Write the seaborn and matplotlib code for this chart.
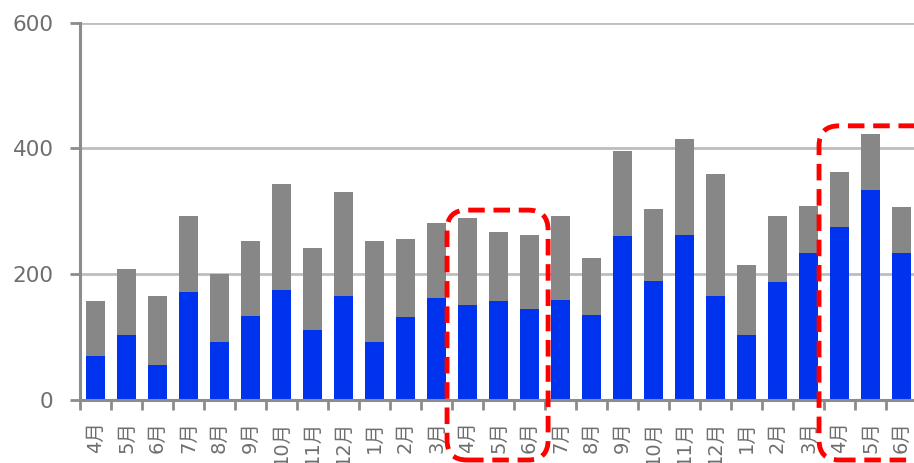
import matplotlib
matplotlib.use("Agg")
import matplotlib.pyplot as plt
from matplotlib.patches import FancyBboxPatch
from matplotlib.transforms import IdentityTransform
import numpy as np
import pandas as pd
import seaborn as sns

# Monthly values, two fiscal years plus the first quarter of the next
months = ["4月", "5月", "6月", "7月", "8月", "9月", "10月", "11月", "12月", "1月", "2月", "3月",
          "4月", "5月", "6月", "7月", "8月", "9月", "10月", "11月", "12月", "1月", "2月", "3月",
          "4月", "5月", "6月"]
lower = [70, 103, 56, 171, 92, 133, 175, 112, 165, 92, 132, 163,
         151, 157, 145, 159, 135, 261, 189, 263, 165, 104, 188, 234,
         275, 334, 234]
upper = [87, 105, 109, 122, 108, 120, 169, 130, 165, 161, 124, 118,
         138, 110, 117, 134, 91, 135, 114, 152, 195, 110, 105, 75,
         87, 89, 73]
y_ticks = [0, 200, 400, 600]

# Highlighted periods: (first bar, last bar) indices
highlights = [(12, 14), (24, 26)]

BLUE = "#0033EE"
GREY = "#878787"
AXIS = "#8C8C8C"
TEXT = "#6E6E6E"

df = pd.DataFrame({
    "pos": np.arange(len(months)),
    "lower": lower,
    "total": np.array(lower) + np.array(upper),
})

sns.set_theme(style="white")
plt.rcParams["font.family"] = ["DejaVu Sans", "Noto Sans CJK JP"]

fig = plt.figure(figsize=(9.14, 4.63), dpi=100)
ax = fig.add_axes([80 / 914, 63 / 463, 837 / 914, 377.3 / 463])

sns.barplot(data=df, x="pos", y="total", color=GREY, saturation=1,
            width=0.6, linewidth=0, ax=ax, zorder=3)
sns.barplot(data=df, x="pos", y="lower", color=BLUE, saturation=1,
            width=0.6, linewidth=0, ax=ax, zorder=4)

ax.set_xlim(-0.5, len(months) - 0.5)
ax.set_ylim(0, 600)
ax.set_xlabel("")
ax.set_ylabel("")

# Horizontal gridlines
for v in y_ticks[1:]:
    ax.axhline(v, color="#BDBDBD", lw=2, zorder=1)

# Y axis
ax.set_yticks(y_ticks)
ax.set_yticklabels([str(v) for v in y_ticks], fontsize=15.5, color=TEXT)
ax.tick_params(axis="y", direction="out", length=7, width=2, color=AXIS, pad=12, left=True)

# X axis: ticks between categories, labels centred under bars
ax.set_xticks(np.arange(len(months) + 1) - 0.5)
ax.set_xticklabels([])
ax.set_xticks(np.arange(len(months)), minor=True)
ax.set_xticklabels(months, minor=True, rotation=90, fontsize=14, color=TEXT,
                   va="top", ha="center")
ax.tick_params(axis="x", which="major", direction="out", length=7, width=2, color=AXIS, bottom=True)
ax.tick_params(axis="x", which="minor", length=0, pad=15)

for s in ["top", "right"]:
    ax.spines[s].set_visible(False)
for s in ["left", "bottom"]:
    ax.spines[s].set_color(AXIS)
    ax.spines[s].set_linewidth(2.2)
    ax.spines[s].set_zorder(5)

# Dashed rounded frames around the highlighted periods
fig.canvas.draw()
frame_tops = [302, 436]
for (a, b), top in zip(highlights, frame_tops):
    x0, y1 = ax.transData.transform((a - 0.66, top))
    right_edge = b + 0.6 if b < len(months) - 1 else b + 1.4
    x1, _ = ax.transData.transform((right_edge, top))
    y0 = 3
    box = FancyBboxPatch((x0, y0), x1 - x0, y1 - y0,
                         boxstyle="round,pad=0,rounding_size=20",
                         transform=IdentityTransform(), fill=False,
                         edgecolor="#FF0000", lw=3.5,
                         linestyle=(0, (3.4, 1.8)), clip_on=False, zorder=10)
    fig.add_artist(box)

fig.savefig("out.png", dpi=100)
